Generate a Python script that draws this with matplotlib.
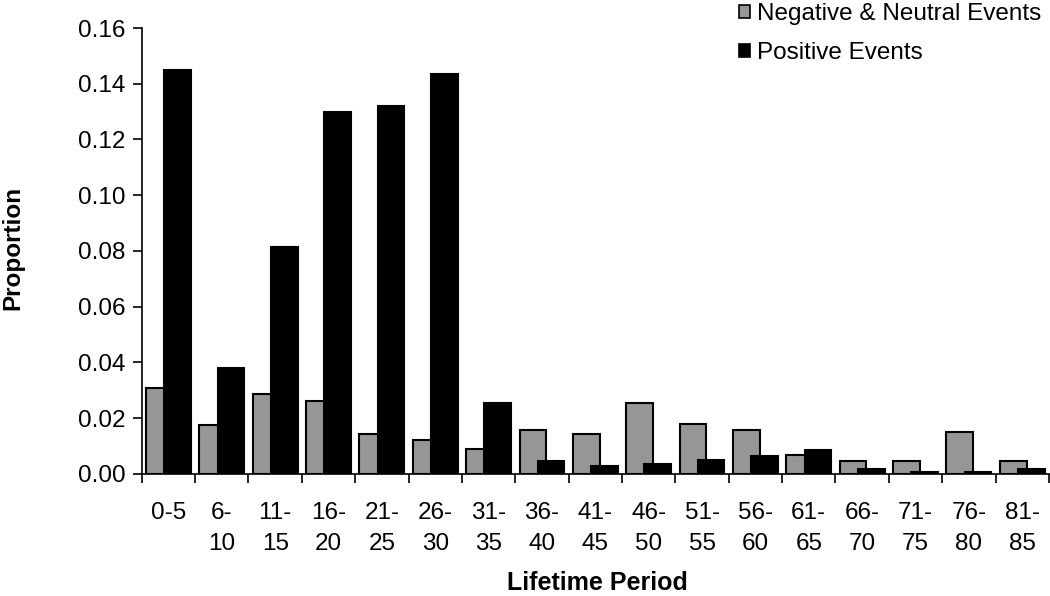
import matplotlib
matplotlib.use("Agg")
import matplotlib.pyplot as plt
from matplotlib.patches import Patch
import numpy as np

plt.rcParams['font.family'] = ['Liberation Sans', 'DejaVu Sans']

categories = ["0-5", "6-\n10", "11-\n15", "16-\n20", "21-\n25", "26-\n30", "31-\n35",
              "36-\n40", "41-\n45", "46-\n50", "51-\n55", "56-\n60", "61-\n65",
              "66-\n70", "71-\n75", "76-\n80", "81-\n85"]
negative_neutral = [0.0307, 0.0177, 0.0285, 0.0261, 0.0143, 0.0121, 0.0090, 0.0157,
                    0.0143, 0.0254, 0.0179, 0.0158, 0.0066, 0.0047, 0.0047, 0.0150, 0.0047]
positive = [0.1451, 0.0379, 0.0815, 0.1300, 0.1320, 0.1435, 0.0255, 0.0047,
            0.0028, 0.0035, 0.0049, 0.0064, 0.0084, 0.0019, 0.0007, 0.0007, 0.0016]
y_ticks = [0.00, 0.02, 0.04, 0.06, 0.08, 0.10, 0.12, 0.14, 0.16]

FS = 17.5
fig = plt.figure(figsize=(10.5, 5.96), dpi=100)
ax = fig.add_axes([0.135, 0.205, 0.864, 0.748])

x = np.arange(len(categories))
w = 0.5
ax.bar(x - 0.17, negative_neutral, width=w, color='#969696', edgecolor='black', linewidth=1.5, zorder=2)
ax.bar(x + 0.17, positive, width=w, color='black', edgecolor='black', linewidth=1.5, zorder=3)

ax.set_xlim(-0.5, len(categories) - 0.5)
ax.set_ylim(0, 0.16)
ax.set_yticks(y_ticks)
ax.set_yticklabels([f"{v:.2f}" for v in y_ticks], fontsize=FS)
ax.set_xticks(x)
ax.set_xticklabels(categories, fontsize=FS, linespacing=1.55, va='top')
ax.set_xticks(np.arange(len(categories) + 1) - 0.5, minor=True)
ax.tick_params(axis='x', which='major', length=0, pad=20)
ax.tick_params(axis='x', which='minor', length=6.5, width=1.2, direction='out')
ax.tick_params(axis='y', length=6.5, width=1.2, direction='out', pad=5)

for s in ['top', 'right']:
    ax.spines[s].set_visible(False)
for s in ['left', 'bottom']:
    ax.spines[s].set_linewidth(1.2)

fig.text(13 / 1050, 1 - 248 / 596, "Proportion", fontsize=FS, fontweight='bold',
         rotation=90, ha='center', va='center')
fig.text(597 / 1050, 1 / 596, "Lifetime Period", fontsize=18, fontweight='bold',
         ha='center', va='bottom')

handles = [Patch(facecolor='#969696', edgecolor='black', linewidth=1.2),
           Patch(facecolor='black', edgecolor='black', linewidth=1.2)]
fig.legend(handles, ["Negative & Neutral Events", "Positive Events"],
           loc='upper left', bbox_to_anchor=(739 / 1050, 1 - 3 / 596), frameon=False,
           fontsize=FS, handlelength=0.45, handleheight=0.45, handletextpad=0.3,
           labelspacing=0.7, borderpad=0, borderaxespad=0)

fig.savefig("out.png", dpi=100)
